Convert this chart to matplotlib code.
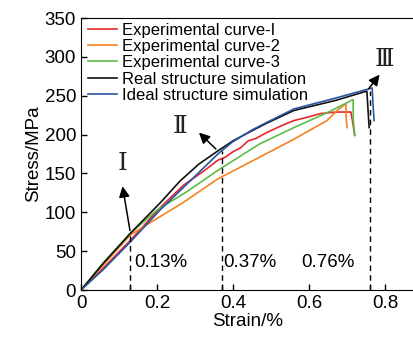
import matplotlib
matplotlib.use('Agg')
from matplotlib import pyplot as plt

plt.rcParams['font.family'] = ['Liberation Sans', 'DejaVu Sans']

# curves (strain %, stress MPa)
exp1_x = [0, 0.05, 0.13, 0.21, 0.27, 0.32, 0.36, 0.38, 0.40, 0.42, 0.44, 0.46, 0.49, 0.53, 0.56, 0.60, 0.63, 0.67, 0.71, 0.715, 0.72]
exp1_y = [0, 24, 64, 107, 135, 152, 167, 171, 178, 183, 192, 195, 203, 212, 218, 223, 227, 229, 229, 215, 199]
exp2_x = [0, 0.06, 0.13, 0.18, 0.27, 0.36, 0.47, 0.56, 0.647, 0.674, 0.697, 0.697, 0.70]
exp2_y = [0, 33, 71, 86, 113, 143, 171, 194, 218, 231, 240, 225, 209]
exp3_x = [0, 0.06, 0.13, 0.20, 0.28, 0.36, 0.47, 0.56, 0.647, 0.716, 0.716, 0.72]
exp3_y = [0, 36, 73, 103, 127, 154, 188, 209, 228, 245, 220, 199]
real_x = [0, 0.06, 0.13, 0.208, 0.26, 0.31, 0.36, 0.40, 0.45, 0.49, 0.56, 0.67, 0.752, 0.755, 0.758]
real_y = [0, 35, 73, 112, 140, 162, 179, 192, 205, 215, 231, 244, 256, 232, 209]
ideal_x = [0, 0.06, 0.13, 0.208, 0.28, 0.36, 0.397, 0.45, 0.49, 0.56, 0.67, 0.766, 0.768, 0.771]
ideal_y = [0, 27, 62, 103, 137, 175, 190, 206, 216, 233, 247, 260, 240, 218]

labels = ['Experimental curve-I', 'Experimental curve-2', 'Experimental curve-3',
          'Real structure simulation', 'Ideal structure simulation']
colors = ['#e8262a', '#f58220', '#5dbb46', '#111111', '#2a55a5']

marks = [0.13, 0.37, 0.76]
mark_tops = [73, 179, 256]
mark_text = ['0.13%', '0.37%', '0.76%']

fig = plt.figure(figsize=(4.14, 3.38), dpi=100)
ax = fig.add_axes([0.1957, 0.142, 0.8043, 0.8047])

curves = [(exp1_x, exp1_y), (exp2_x, exp2_y), (exp3_x, exp3_y), (real_x, real_y), (ideal_x, ideal_y)]
for (xs, ys), lab, c in zip(curves, labels, colors):
    ax.plot(xs, ys, color=c, lw=1.2, label=lab)

for m, top in zip(marks, mark_tops):
    ax.plot([m, m], [0, top], 'k--', lw=1, dashes=(4, 3))
ax.text(0.139, 36, mark_text[0], fontsize=13.5, va='center')
ax.text(0.374, 36, mark_text[1], fontsize=13.5, va='center')
ax.text(0.58, 36, mark_text[2], fontsize=13.5, va='center')

arw = dict(arrowstyle='-|>', color='k', lw=1.1, mutation_scale=16)
ax.annotate('', xy=(0.108, 137), xytext=(0.13, 73), arrowprops=arw)
ax.annotate('', xy=(0.305, 205), xytext=(0.36, 179), arrowprops=arw)
ax.annotate('', xy=(0.79, 280), xytext=(0.752, 256), arrowprops=arw)
rom = dict(fontsize=18, ha='center', va='center', family=['DejaVu Serif'], color='#222222')
ax.text(0.108, 163, 'Ⅰ', **rom)
ax.text(0.26, 210, 'Ⅱ', **rom)
ax.text(0.797, 297, 'Ⅲ', **rom)

ax.set_xlim(0, 0.876)
ax.set_ylim(0, 350)
ax.set_xticks([0, 0.2, 0.4, 0.6, 0.8])
ax.set_xticklabels(['0', '0.2', '0.4', '0.6', '0.8'])
ax.set_xticks(marks, minor=True)
ax.set_yticks(range(0, 351, 50))
ax.tick_params(direction='in', labelsize=13.5, length=4, width=1)
ax.tick_params(which='minor', direction='in', length=4, width=1)
ax.spines['right'].set_visible(False)
ax.set_xlabel('Strain/%', fontsize=13.5, labelpad=1)
ax.set_ylabel('Stress/MPa', fontsize=13.5, labelpad=2)

ax.legend(loc='upper left', frameon=False, fontsize=12, handlelength=1.75,
          handletextpad=0.3, labelspacing=0.08, borderaxespad=0.0,
          bbox_to_anchor=(0.0, 1.008))

fig.savefig('out.png', dpi=100)
